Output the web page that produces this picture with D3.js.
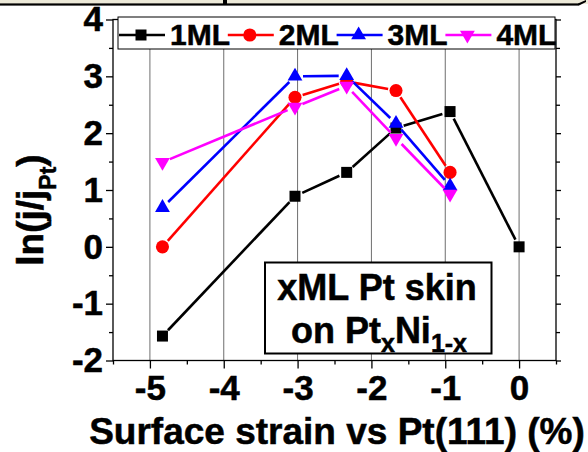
<!DOCTYPE html>
<html lang="en">
<head>
  <meta charset="UTF-8">
  <title>ln(j/jPt) vs surface strain</title>
  <script src="https://d3js.org/d3.v7.min.js"></script>
  <style>
    body { margin: 0; background: #fff; }
    text { font-family: "Liberation Sans", Arial, sans-serif; font-weight: bold; stroke: #000; stroke-width: 0.5px; }
  </style>
</head>
<body>
  <svg width="588" height="452"></svg>

  <script>
    // Data
    const strain = [-4.83, -3.035, -2.335, -1.667, -0.935, 0];
    const ml1 = [-1.57, 0.89, 1.31, 2.09, 2.38, 0];
    const ml2 = [0, 2.63, 2.91, 2.75, 1.31];
    const ml3 = [0.69, 3.0, 3.01, 2.17, 1.07];
    const ml4 = [1.49, 2.46, 2.83, 1.91, 0.93];
    const seriesNames = ["1ML", "2ML", "3ML", "4ML"];
    const xTicks = [-5, -4, -3, -2, -1, 0];
    const yTicks = [-2, -1, 0, 1, 2, 3, 4];

    const svg = d3.select("svg");

    const x = d3.scaleLinear().domain([-5.5, 0.5]).range([113, 556]);
    const y = d3.scaleLinear().domain([-2, 4]).range([360.5, 19.5]);

    // the strip left over from the crop at the very top
    svg.append("rect").attr("x", 0).attr("y", 0).attr("width", 588).attr("height", 4).attr("fill", "#ece9d8");
    svg.append("rect").attr("x", 0).attr("y", 3.4).attr("width", 579).attr("height", 2.2).attr("fill", "#000");
    svg.append("rect").attr("x", 223).attr("y", 0).attr("width", 4).attr("height", 4).attr("fill", "#000");
    svg.append("path").attr("d", "M578,3.4 L586,0 L586,2 L579,5.6 Z").attr("fill", "#000");

    // vertical grid lines
    svg.append("g")
      .selectAll("line")
      .data(xTicks)
      .enter().append("line")
      .attr("x1", d => x(d)).attr("x2", d => x(d))
      .attr("y1", y(4)).attr("y2", y(-2))
      .attr("stroke", "#6e6e6e")
      .attr("stroke-width", 1);

    // minor ticks
    const xMinor = d3.range(-5.5, 0.51, 0.5).filter(v => !xTicks.includes(v));
    const yMinor = d3.range(-1.5, 4, 1);

    function styleAxis(g) {
      g.select(".domain").remove();
      g.selectAll("line").attr("stroke", "#000").attr("stroke-width", 1.3);
      g.selectAll("text").attr("fill", "#000").style("font-size", "35px");
    }

    svg.append("g")
      .attr("transform", `translate(0,${y(-2)})`)
      .call(d3.axisBottom(x).tickValues(xTicks).tickSize(8).tickPadding(7).tickFormat(d => String(d)))
      .call(styleAxis);
    svg.append("g")
      .attr("transform", `translate(0,${y(-2)})`)
      .call(d3.axisBottom(x).tickValues(xMinor).tickSize(4).tickFormat(""))
      .call(styleAxis);

    svg.append("g")
      .attr("transform", `translate(${x(-5.5)},0)`)
      .call(d3.axisLeft(y).tickValues(yTicks).tickSize(7).tickPadding(3).tickFormat(d => String(d)))
      .call(styleAxis);
    svg.append("g")
      .attr("transform", `translate(${x(-5.5)},0)`)
      .call(d3.axisLeft(y).tickValues(yMinor).tickSize(4).tickFormat(""))
      .call(styleAxis);

    svg.append("g")
      .attr("transform", `translate(${x(0.5)},0)`)
      .call(d3.axisRight(y).tickValues(yTicks).tickSize(5).tickFormat(""))
      .call(styleAxis);
    svg.append("g")
      .attr("transform", `translate(${x(0.5)},0)`)
      .call(d3.axisRight(y).tickValues(yMinor).tickSize(4).tickFormat(""))
      .call(styleAxis);

    // frame
    svg.append("rect")
      .attr("x", x(-5.5)).attr("y", y(4))
      .attr("width", x(0.5) - x(-5.5)).attr("height", y(-2) - y(4))
      .attr("fill", "none")
      .attr("stroke", "#000")
      .attr("stroke-width", 1.3);

    // series
    const series = [
      { name: seriesNames[0], values: ml1, color: "#000000", symbol: d3.symbolSquare, size: 121, rot: 0 },
      { name: seriesNames[1], values: ml2, color: "#ff0000", symbol: d3.symbolCircle, size: 135, rot: 0 },
      { name: seriesNames[2], values: ml3, color: "#0000ff", symbol: d3.symbolTriangle, size: 95, rot: 0 },
      { name: seriesNames[3], values: ml4, color: "#ff00ff", symbol: d3.symbolTriangle, size: 95, rot: 180 }
    ];

    const gap = 8;
    series.forEach(s => {
      const pts = s.values.map((v, i) => [x(strain[i]), y(v)]);
      const g = svg.append("g");

      // line pieces stop short of the markers
      const segs = d3.pairs(pts).map(([a, b]) => {
        const dx = b[0] - a[0], dy = b[1] - a[1];
        const len = Math.hypot(dx, dy);
        const ux = dx / len, uy = dy / len;
        return [[a[0] + ux * gap, a[1] + uy * gap], [b[0] - ux * gap, b[1] - uy * gap]];
      });
      g.selectAll("path.seg")
        .data(segs)
        .enter().append("path")
        .attr("class", "seg")
        .attr("d", d3.line())
        .attr("fill", "none")
        .attr("stroke", s.color)
        .attr("stroke-width", 2.6);

      g.selectAll("path.mark")
        .data(pts)
        .enter().append("path")
        .attr("class", "mark")
        .attr("d", d3.symbol().type(s.symbol).size(s.size))
        .attr("transform", d => `translate(${d[0]},${d[1]}) rotate(${s.rot})`)
        .attr("fill", s.color);
    });

    // legend
    const legend = svg.append("g");
    legend.append("rect")
      .attr("x", 118).attr("y", 17)
      .attr("width", 437).attr("height", 32)
      .attr("fill", "#fff")
      .attr("stroke", "#000")
      .attr("stroke-width", 1);

    const items = legend.selectAll("g.item")
      .data(series)
      .enter().append("g")
      .attr("class", "item")
      .attr("transform", (d, i) => `translate(${118 + i * 108.8},0)`);
    items.append("line")
      .attr("x1", 1).attr("x2", 47).attr("y1", 35).attr("y2", 35)
      .attr("stroke", d => d.color)
      .attr("stroke-width", 2.6);
    items.append("path")
      .attr("d", d => d3.symbol().type(d.symbol).size(d.size)())
      .attr("transform", d => `translate(23,35) rotate(${d.rot})`)
      .attr("fill", d => d.color);
    items.append("text")
      .attr("x", 52).attr("y", 45)
      .style("font-size", "30px")
      .text(d => d.name);

    // annotation box
    const note = svg.append("g");
    note.append("rect")
      .attr("x", 265).attr("y", 262.5)
      .attr("width", 226.5).attr("height", 91)
      .attr("fill", "#fff")
      .attr("stroke", "#000")
      .attr("stroke-width", 2);
    note.append("text")
      .attr("x", 377).attr("y", 300)
      .attr("text-anchor", "middle")
      .style("font-size", "36px")
      .text("xML Pt skin");
    const line2 = note.append("text")
      .attr("x", 379).attr("y", 343)
      .attr("text-anchor", "middle")
      .style("font-size", "36px");
    line2.append("tspan").text("on Pt");
    line2.append("tspan").attr("dy", 9).style("font-size", "25px").text("x");
    line2.append("tspan").attr("dy", -9).text("Ni");
    line2.append("tspan").attr("dy", 9).style("font-size", "25px").text("1-x");

    // axis titles
    svg.append("text")
      .attr("x", 337).attr("y", 443.5)
      .attr("text-anchor", "middle")
      .style("font-size", "37px")
      .text("Surface strain vs Pt(111) (%)");

    const yTitle = svg.append("text")
      .attr("transform", "translate(43,210) rotate(-90)")
      .attr("text-anchor", "middle")
      .style("font-size", "37px");
    yTitle.append("tspan").text("ln(j/j");
    yTitle.append("tspan").attr("dy", 13).style("font-size", "23px").text("Pt");
    yTitle.append("tspan").attr("dy", -13).text(")");
  </script>
</body>
</html>
